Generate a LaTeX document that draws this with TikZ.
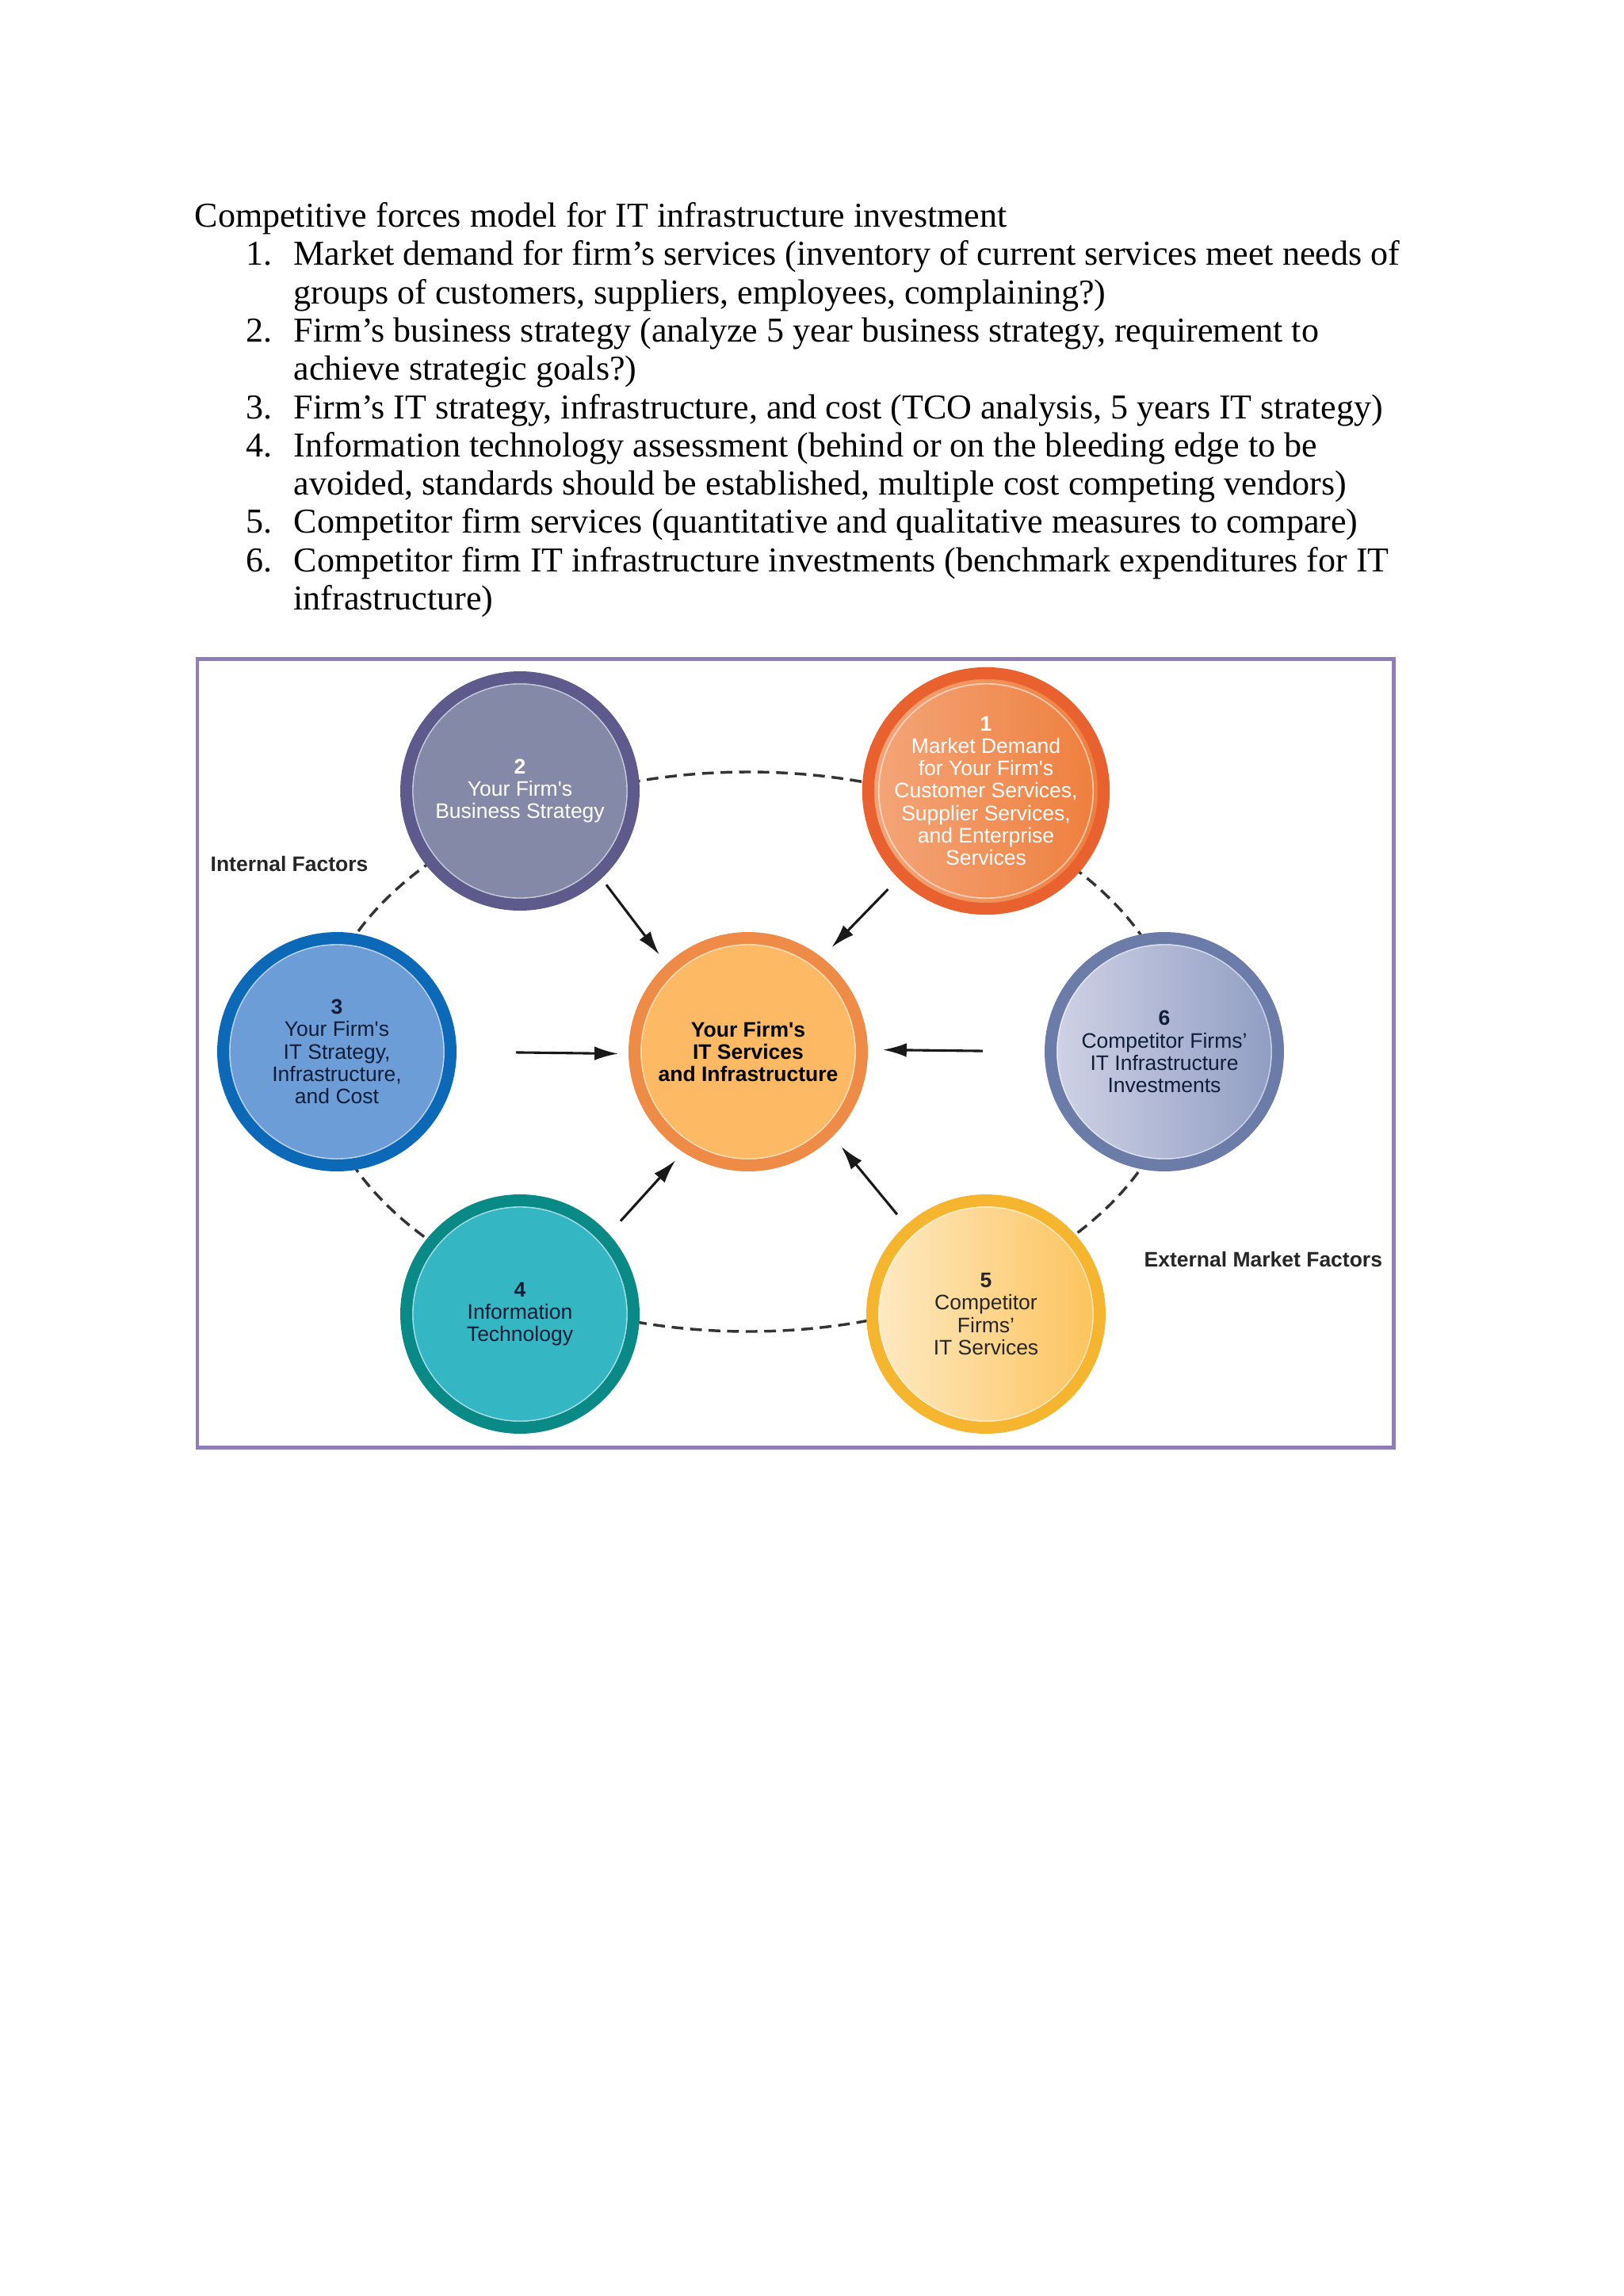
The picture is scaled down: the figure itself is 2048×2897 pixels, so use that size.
\documentclass[tikz,border=0pt]{standalone}
\usepackage{fontspec}
\setmainfont{Liberation Serif}
\newfontfamily\diagfont{Liberation Sans}
\usetikzlibrary{arrows.meta}
\definecolor{framec}{HTML}{8F7DB8}
\definecolor{twoRing}{HTML}{5E5A8C}
\definecolor{twoFill}{HTML}{8489A7}
\definecolor{oneRing}{HTML}{E8612E}
\definecolor{oneL}{HTML}{F4A67A}
\definecolor{oneR}{HTML}{EE7E3C}
\definecolor{threeRing}{HTML}{0B69B7}
\definecolor{threeFill}{HTML}{6D9DD7}
\definecolor{hubRing}{HTML}{EE8B47}
\definecolor{hubFill}{HTML}{FDB964}
\definecolor{sixRing}{HTML}{6B7CA8}
\definecolor{sixL}{HTML}{D0D3E6}
\definecolor{sixR}{HTML}{8F9CC2}
\definecolor{fourRing}{HTML}{0A8A87}
\definecolor{fourFill}{HTML}{35B6C3}
\definecolor{fiveRing}{HTML}{F6B52E}
\definecolor{fiveL}{HTML}{FEEAC4}
\definecolor{fiveR}{HTML}{FCC35B}
\definecolor{navy}{HTML}{0F1D38}
\tikzset{
  txt/.style={anchor=base west,inner sep=0pt,font=\fontsize{12.8}{14}\selectfont},
  force/.style={circle,inner sep=0pt,minimum size=83.4pt,line width=4.36pt,
    align=center,font={\diagfont\fontsize{7.7}{8.2}\selectfont},
    path picture={\draw[white,opacity=.55,line width=.5pt]
      (path picture bounding box.center) circle (39.3pt);}},
  hubc/.style={force,draw=hubRing,fill=hubFill,text=black,
    font={\diagfont\bfseries\fontsize{7.7}{8.2}\selectfont}},
  factor/.style={anchor=base west,inner sep=0pt,
    font={\diagfont\bfseries\fontsize{7.7}{8.2}\selectfont},text=black!85},
  push/.style={-{Latex[length=8.7pt,width=5.1pt]},line width=.9pt,draw=black!90},
  orbit/.style={dash pattern=on 4.3pt off 2.5pt,line width=1pt,draw=black!80},
  framebox/.style={draw=framec,line width=1.45pt},
}
\begin{document}
\begin{tikzpicture}[x=0.290664pt,y=-0.290664pt]
  \fill[white] (0,0) rectangle (2048,2897);
  \useasboundingbox (0,0) rectangle (2048,2897);
  % list above the figure
  \node[txt] (title) at (245,286) {Competitive forces model for IT infrastructure investment};
  \node[txt] (n1)  at (310,334) {1.};
  \node[txt] (i1a) at (370,334) {Market demand for firm’s services (inventory of current services meet needs of};
  \node[txt] (i1b) at (370,383) {groups of customers, suppliers, employees, complaining?)};
  \node[txt] (n2)  at (310,431) {2.};
  \node[txt] (i2a) at (370,431) {Firm’s business strategy (analyze 5 year business strategy, requirement to};
  \node[txt] (i2b) at (370,479) {achieve strategic goals?)};
  \node[txt] (n3)  at (310,528) {3.};
  \node[txt] (i3a) at (370,528) {Firm’s IT strategy, infrastructure, and cost (TCO analysis, 5 years IT strategy)};
  \node[txt] (n4)  at (310,576) {4.};
  \node[txt] (i4a) at (370,576) {Information technology assessment (behind or on the bleeding edge to be};
  \node[txt] (i4b) at (370,624) {avoided, standards should be established, multiple cost competing vendors)};
  \node[txt] (n5)  at (310,672) {5.};
  \node[txt] (i5a) at (370,672) {Competitor firm services (quantitative and qualitative measures to compare)};
  \node[txt] (n6)  at (310,721) {6.};
  \node[txt] (i6a) at (370,721) {Competitor firm IT infrastructure investments (benchmark expenditures for IT};
  \node[txt] (i6b) at (370,769) {infrastructure)};
  % the figure
  \draw[framebox] (249,831) rectangle (1758,1826);
  \coordinate (mid) at (944,1327);
  \draw[orbit] (mid) ellipse [x radius=545, y radius=353];
  \node[force,draw=twoRing,fill=twoFill,text=white] (c2) at (656,998)
    {\textbf{2}\\Your Firm's\\Business Strategy};
  \node[force,draw=oneRing,left color=oneL,right color=oneR,text=white] (c1) at (1244,998)
    {\textbf{1}\\Market Demand\\for Your Firm's\\Customer Services,\\Supplier Services,\\and Enterprise\\Services};
  \node[force,draw=threeRing,fill=threeFill,text=navy] (c3) at (425,1327)
    {\textbf{3}\\Your Firm's\\IT Strategy,\\Infrastructure,\\and Cost};
  \node[hubc] (hub) at (mid)
    {Your Firm's\\IT Services\\and Infrastructure};
  \node[force,draw=sixRing,left color=sixL,right color=sixR,text=navy] (c6) at (1469,1327)
    {\textbf{6}\\Competitor Firms’\\IT Infrastructure\\Investments};
  \node[force,draw=fourRing,fill=fourFill,text=navy] (c4) at (656,1658)
    {\textbf{4}\\Information\\Technology};
  \node[force,draw=fiveRing,left color=fiveL,right color=fiveR,text=black!85] (c5) at (1244,1658)
    {\textbf{5}\\Competitor\\Firms’\\IT Services};
  \node[factor] (inf) at (265,1099) {Internal Factors};
  \node[factor] (exf) at (1443,1598) {External Market Factors};
  \draw[push,shorten <=2.9pt,shorten >=4.4pt]  (c2.313) -- (hub.133);
  \draw[push,shorten <=5.5pt,shorten >=5.2pt]  (c1.225) -- (hub.52);
  \draw[push,shorten <=21.8pt,shorten >=3.8pt] (c3.0) -- (hub.181);
  \draw[push,shorten <=22.7pt,shorten >=5.5pt] (c6.180) -- (hub.1);
  \draw[push,shorten <=6.4pt,shorten >=4.1pt]  (c4.42) -- (hub.237);
  \draw[push,shorten <=5.1pt,shorten >=4.9pt]  (c5.132) -- (hub.315);
\end{tikzpicture}
\end{document}
